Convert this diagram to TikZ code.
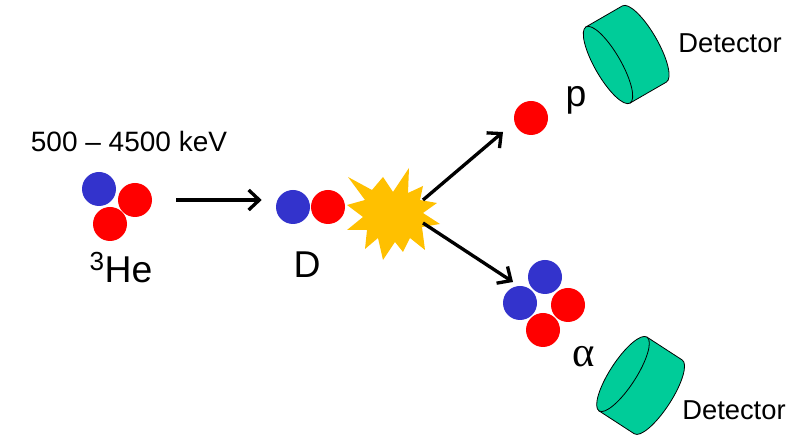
\documentclass[tikz,border=0pt]{standalone}
\usepackage{fontspec}
\setmainfont{Liberation Sans}
\newfontfamily\greekfont{Liberation Serif}
\usetikzlibrary{arrows.meta}
\definecolor{protonred}{RGB}{255,0,0}
\definecolor{neutronblue}{RGB}{51,51,204}
\definecolor{flash}{RGB}{255,192,0}
\definecolor{scint}{RGB}{0,204,153}

\begin{document}
\begin{tikzpicture}[x=0.75pt, y=0.75pt,
  nucleon/.style={circle, minimum size=25.5pt, inner sep=0pt},
  proton/.style={nucleon, fill=protonred},
  neutron/.style={nucleon, fill=neutronblue},
  arrow/.style={-{Straight Barb[length=8pt, width=15pt]}, line width=2.5pt},
  detector/.style={fill=scint, draw=black, line width=0.6pt},
  tag/.style={font=\fontsize{28}{30}\selectfont, anchor=base},
  caption/.style={font=\fontsize{20.5}{24}\selectfont, anchor=base}]
\useasboundingbox (0,0) rectangle (808,435);

% incoming 3He
\node[neutron] (he-n)  at (99,246)  {};
\node[proton]  (he-p1) at (135,235) {};
\node[proton]  (he-p2) at (110,211) {};
\node[tag] (he-label) at (121,152) {\textsuperscript{3}He};
\node[caption, font=\fontsize{21}{24}\selectfont] (energy) at (129,283) {500 -- 4500 keV};

% deuteron target
\node[neutron] (d-n) at (293,228) {};
\node[proton]  (d-p) at (328,228) {};
\node[tag] (d-label) at (307,157) {D};

% reaction flash
\coordinate (burst) at (392,223);
\fill[flash] (347,230) -- (365,235) -- (348,258) -- (372,245) -- (383,258)
  -- (393,243) -- (409,267) -- (408,242) -- (423,249) -- (420,235)
  -- (437,232) -- (423,222) -- (440,211) -- (422,208) -- (425,185)
  -- (410,197) -- (403,183) -- (395,193) -- (383,175) -- (378,197)
  -- (365,186) -- (367,205) -- (347,205) -- (363,218) -- cycle;

% outgoing proton
\node[proton] (p) at (531,317) {};
\node[tag] (p-label) at (576,328) {p};

% outgoing alpha
\node[neutron] (a-n1) at (545,158) {};
\node[neutron] (a-n2) at (520,132) {};
\node[proton]  (a-p1) at (568,130) {};
\node[proton]  (a-p2) at (543,105) {};
\node[tag, font=\fontsize{32}{34}\greekfont] (a-label) at (584,68) {α};

% arrows
\coordinate (burst-ne) at (423,235);
\coordinate (burst-se) at (423,212);
\coordinate (p-head) at (503,303);
\coordinate (a-head) at (513,153);
\draw[arrow, shorten <=18pt, shorten >=10.5pt] (he-p1.east) -- (he-p1.east -| d-n.west);
\draw[arrow] (burst-ne) -- (p-head);
\draw[arrow] (burst-se) -- (a-head);

% proton detector
\begin{scope}[shift={(608,370)}, rotate=30]
  \filldraw[detector] (0,44) -- (42,44) arc[start angle=90, end angle=-90, x radius=13, y radius=44] -- (0,-44) -- cycle;
  \filldraw[detector] (0,0) ellipse[x radius=13, y radius=44];
\end{scope}
\node[caption] (det-top) at (730,382) {Detector};

% alpha detector
\begin{scope}[shift={(623,61)}, rotate=-33]
  \filldraw[detector] (0,44) -- (42,44) arc[start angle=90, end angle=-90, x radius=13, y radius=44] -- (0,-44) -- cycle;
  \filldraw[detector] (0,0) ellipse[x radius=13, y radius=44];
\end{scope}
\node[caption] (det-bottom) at (734,15) {Detector};
\end{tikzpicture}
\end{document}
